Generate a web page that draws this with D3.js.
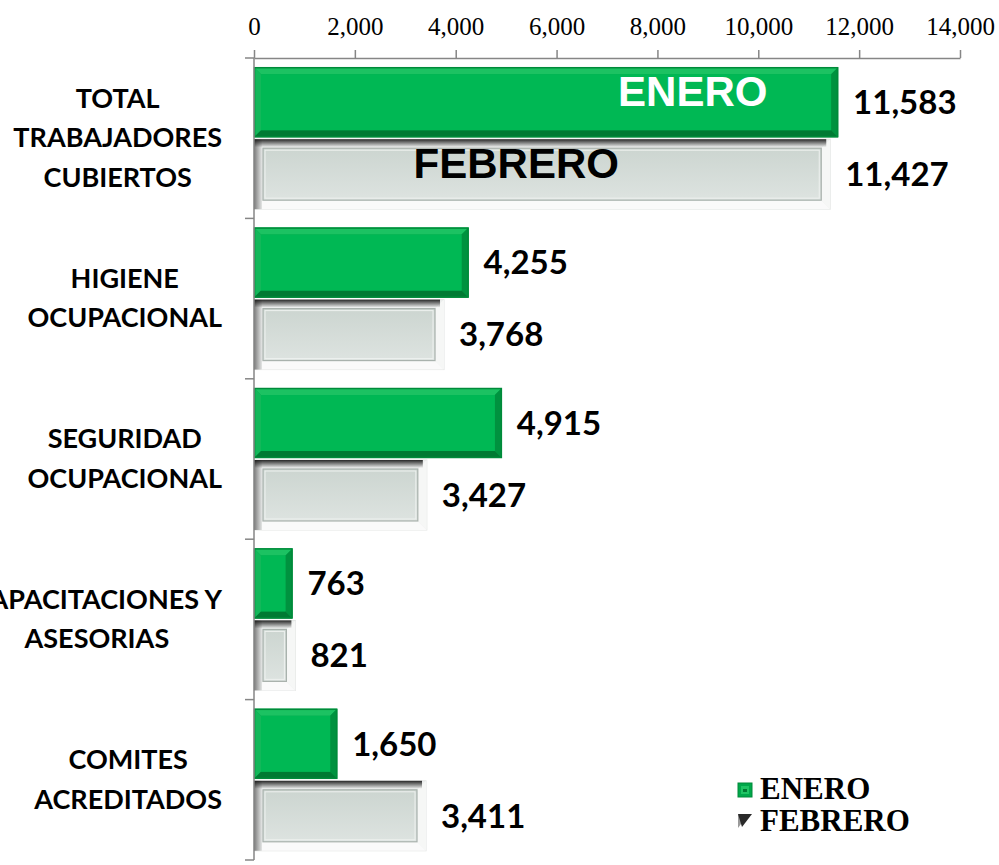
<!DOCTYPE html>
<html lang="es">
<head>
  <meta charset="UTF-8" />
  <title>Trabajadores cubiertos enero / febrero</title>
  <script src="https://d3js.org/d3.v7.min.js"></script>
  <style>
    html, body { margin: 0; padding: 0; background: #fff; overflow: hidden; }
    svg { display: block; }
    .tick-label { font-family: "Liberation Serif", "Times New Roman", serif; font-size: 25px; fill: #000; }
    .cat-label { font-family: Lato, "Noto Sans", sans-serif; font-weight: bold; font-size: 27px; fill: #000; }
    .val-label { font-family: Lato, "Noto Sans", sans-serif; font-weight: bold; font-size: 33px; fill: #000; }
    .in-label { font-family: "Liberation Sans", Arial, sans-serif; font-weight: bold; font-size: 42px; }
    .legend-label { font-family: "Liberation Serif", "Times New Roman", serif; font-weight: bold; font-size: 31px; fill: #000; }
  </style>
</head>
<body>
  <svg width="999" height="865"></svg>
  <script>
    const categories = ["TOTAL TRABAJADORES CUBIERTOS", "HIGIENE OCUPACIONAL", "SEGURIDAD OCUPACIONAL", "CAPACITACIONES Y ASESORIAS", "COMITES ACREDITADOS"];
    const categoryLines = [["TOTAL", "TRABAJADORES", "CUBIERTOS"], ["HIGIENE", "OCUPACIONAL"], ["SEGURIDAD", "OCUPACIONAL"], ["CAPACITACIONES Y", "ASESORIAS"], ["COMITES", "ACREDITADOS"]];
    const series = ["ENERO", "FEBRERO"];
    const enero = [11583, 4255, 4915, 763, 1650];
    const febrero = [11427, 3768, 3427, 821, 3411];
    const xTicks = [0, 2000, 4000, 6000, 8000, 10000, 12000, 14000];

    const svg = d3.select("svg");
    const fmt = d3.format(",");

    const x = d3.scaleLinear().domain([0, 14000]).range([254, 960]);
    const y = d3.scaleBand().domain(categories).range([58, 860]).paddingInner(0).paddingOuter(0);
    const ys = d3.scaleBand().domain(series).range([0, y.bandwidth()]).paddingInner(0.028).paddingOuter(0.128);

    const rows = [];
    categories.forEach((c, i) => {
      rows.push({ cat: c, s: "ENERO", v: enero[i] });
      rows.push({ cat: c, s: "FEBRERO", v: febrero[i] });
    });

    const defs = svg.append("defs");
    const lg = defs.append("linearGradient").attr("id", "shadowTop").attr("x1", 0).attr("x2", 0).attr("y1", 0).attr("y2", 1);
    lg.append("stop").attr("offset", "0%").attr("stop-color", "#111").attr("stop-opacity", 0.9);
    lg.append("stop").attr("offset", "100%").attr("stop-color", "#111").attr("stop-opacity", 0);
    const lgL = defs.append("linearGradient").attr("id", "shadowLeft").attr("x1", 0).attr("x2", 1).attr("y1", 0).attr("y2", 0);
    lgL.append("stop").attr("offset", "0%").attr("stop-color", "#7a7a7a");
    lgL.append("stop").attr("offset", "100%").attr("stop-color", "#e4e6e5");
    const lgF = defs.append("linearGradient").attr("id", "grayFace").attr("x1", 0).attr("x2", 0).attr("y1", 0).attr("y2", 1);
    lgF.append("stop").attr("offset", "0%").attr("stop-color", "#ccd5d0");
    lgF.append("stop").attr("offset", "100%").attr("stop-color", "#dde3e0");

    // bars with bevel
    const barG = svg.append("g");
    function pts(a) { return a.map(p => p.join(",")).join(" "); }

    rows.forEach(d => {
      const x0 = x(0), x1 = x(d.v);
      const y0 = y(d.cat) + ys(d.s), y1 = y0 + ys.bandwidth();
      const w = x1 - x0;
      const g = barG.append("g");
      if (d.s === "ENERO") {
        const b = Math.min(7, w / 2 - 2);
        g.append("rect").attr("x", x0).attr("y", y0).attr("width", w).attr("height", y1 - y0).attr("fill", "#00a84b");
        g.append("polygon").attr("points", pts([[x0, y0], [x1, y0], [x1 - b, y0 + b], [x0 + b, y0 + b]])).attr("fill", "#1cc262");
        g.append("polygon").attr("points", pts([[x0, y0], [x0 + b, y0 + b], [x0 + b, y1 - b], [x0, y1]])).attr("fill", "#12b85a");
        g.append("polygon").attr("points", pts([[x1, y0], [x1 - b, y0 + b], [x1 - b, y1 - b], [x1, y1]])).attr("fill", "#00923f");
        g.append("polygon").attr("points", pts([[x0, y1], [x1, y1], [x1 - b, y1 - b], [x0 + b, y1 - b]])).attr("fill", "#007a33");
        g.append("rect").attr("x", x0 + b).attr("y", y0 + b).attr("width", Math.max(0, w - 2 * b)).attr("height", y1 - y0 - 2 * b).attr("fill", "#00b854");
        g.append("rect").attr("x", x0 + 0.5).attr("y", y0 + 0.5).attr("width", w - 1).attr("height", y1 - y0 - 1)
          .attr("fill", "none").attr("stroke", "#008a3a").attr("stroke-width", 1.5);
      } else {
        const b = Math.min(9, w / 2 - 3);
        g.append("rect").attr("x", x0).attr("y", y0).attr("width", w).attr("height", y1 - y0).attr("fill", "#eef0ef").attr("stroke", "#e2e4e3");
        g.append("polygon").attr("points", pts([[x0, y1], [x1, y1], [x1 - b, y1 - b], [x0 + b, y1 - b]])).attr("fill", "#fafafa");
        g.append("polygon").attr("points", pts([[x1, y0], [x1 - b, y0 + b], [x1 - b, y1 - b], [x1, y1]])).attr("fill", "#f6f7f6");
        g.append("rect").attr("x", x0 + b).attr("y", y0 + b).attr("width", Math.max(0, w - 2 * b)).attr("height", y1 - y0 - 2 * b)
          .attr("fill", "url(#grayFace)").attr("stroke", "#a9b2ad").attr("stroke-width", 1.2);
        g.append("rect").attr("x", x0 + b + 2).attr("y", y0 + b + 2).attr("width", Math.max(0, w - 2 * b - 4)).attr("height", y1 - y0 - 2 * b - 4)
          .attr("fill", "none").attr("stroke", "#eef1ef").attr("stroke-width", 1);
        g.append("rect").attr("x", x0).attr("y", y0).attr("width", 8).attr("height", y1 - y0).attr("fill", "url(#shadowLeft)");
        g.append("rect").attr("x", x0).attr("y", y0).attr("width", w - 4).attr("height", 8).attr("fill", "url(#shadowTop)");
      }
    });

    // top value axis
    const axis = d3.axisTop(x).tickValues(xTicks).tickSize(8).tickSizeOuter(0).tickFormat(fmt);
    const ax = svg.append("g").attr("transform", `translate(0,${y.range()[0]})`).call(axis);
    ax.select(".domain").attr("stroke", "#868686").attr("stroke-width", 1.5);
    ax.selectAll(".tick line").attr("stroke", "#868686").attr("stroke-width", 1.5);
    ax.selectAll(".tick text").attr("class", "tick-label").attr("y", -23).attr("dy", 0);

    // category axis
    const catAxis = svg.append("g");
    catAxis.append("line").attr("x1", x(0)).attr("x2", x(0)).attr("y1", y.range()[0]).attr("y2", y.range()[1])
      .attr("stroke", "#868686").attr("stroke-width", 1.5);
    const bounds = categories.map(c => y(c)).concat([y.range()[1]]);
    catAxis.selectAll("line.cat-tick").data(bounds).enter().append("line")
      .attr("class", "cat-tick")
      .attr("x1", x(0) - 9).attr("x2", x(0)).attr("y1", d => d).attr("y2", d => d)
      .attr("stroke", "#868686").attr("stroke-width", 1.5);

    // category labels
    const labelRight = 222;
    categories.forEach((c, i) => {
      const lines = categoryLines[i];
      const cy = y(c) + y.bandwidth() / 2;
      const g = svg.append("g");
      const texts = lines.map((t, j) => g.append("text").attr("class", "cat-label")
        .attr("text-anchor", "middle")
        .attr("y", cy + (j - (lines.length - 1) / 2) * 39.5 + 9)
        .text(t));
      const maxW = d3.max(texts, t => t.node().getComputedTextLength());
      texts.forEach(t => t.attr("x", labelRight - maxW / 2));
    });

    // value labels
    svg.append("g").selectAll("text").data(rows).enter().append("text")
      .attr("class", "val-label")
      .attr("x", d => x(d.v) + 15)
      .attr("y", d => y(d.cat) + ys(d.s) + ys.bandwidth() / 2)
      .attr("dy", "0.36em")
      .text(d => fmt(d.v));

    // series names inside the first group
    svg.append("text").attr("class", "in-label").attr("fill", "#fff").attr("text-anchor", "middle")
      .attr("x", x(8700)).attr("y", y(categories[0]) + ys("ENERO") + ys.bandwidth() / 2 + 4).text("ENERO");
    svg.append("text").attr("class", "in-label").attr("fill", "#000").attr("text-anchor", "middle")
      .attr("x", x(5200)).attr("y", y(categories[0]) + ys("FEBRERO") + ys.bandwidth() / 2 + 4).text("FEBRERO");

    // legend
    const leg = svg.append("g").attr("transform", "translate(738,783)");
    leg.append("rect").attr("x", 0).attr("y", 0).attr("width", 14).attr("height", 14).attr("fill", "#00a84b").attr("stroke", "#008a3a");
    leg.append("rect").attr("x", 3).attr("y", 3).attr("width", 8).attr("height", 8).attr("fill", "#1fc464");
    leg.append("rect").attr("x", 5).attr("y", 6).attr("width", 4).attr("height", 3).attr("fill", "#007a33");
    leg.append("polygon").attr("points", "0,31 6,37 0,45").attr("fill", "#9a9a9a");
    leg.append("polygon").attr("points", "0,31 14,31 4,44").attr("fill", "#2a2a2a");
    leg.append("text").attr("class", "legend-label").attr("x", 22).attr("y", 16).text("ENERO");
    leg.append("text").attr("class", "legend-label").attr("x", 22).attr("y", 48).text("FEBRERO");
  </script>
</body>
</html>
